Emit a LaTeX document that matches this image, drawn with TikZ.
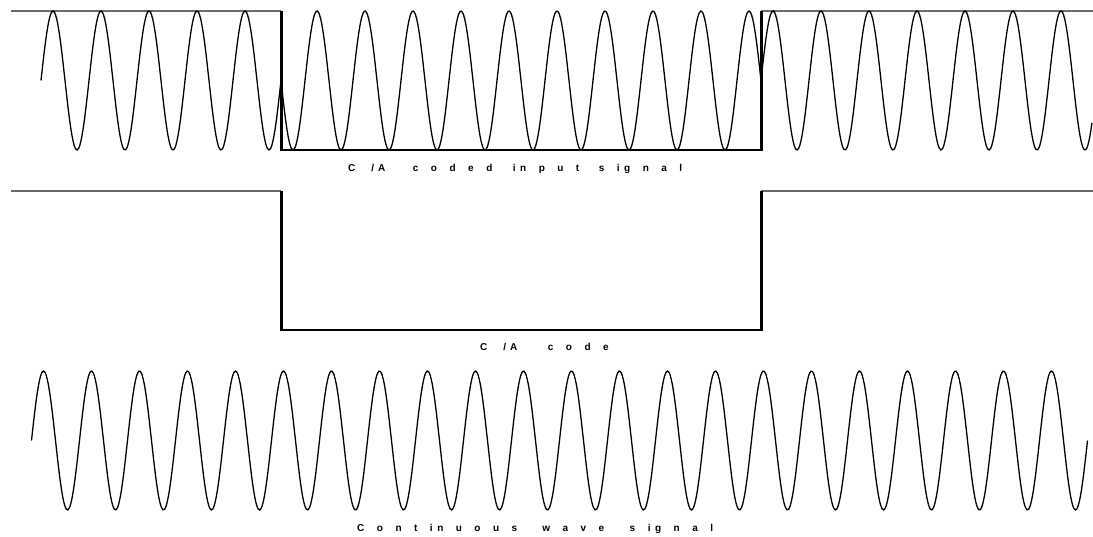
\documentclass[tikz,border=0pt]{standalone}
\usepackage{fontspec}
\setmainfont{Liberation Sans}
\usetikzlibrary{positioning}
\definecolor{edgeGray}{HTML}{6A6A6A}
\definecolor{inkBlack}{HTML}{000000}
% wide letter spacing, narrow after i
\newcommand\spread[1]{\spreadstep#1\relax}
\def\spreadstep#1{\ifx\relax#1\else#1\ifx i#1\kern4.5pt\else\kern12.5pt\fi\expandafter\spreadstep\fi}
\newcommand\calabel{\spread{C}\kern3.5pt/\kern4pt\spread{A}}
\tikzset{
  wave/.style={inkBlack,line width=1.3pt},
  level/.style={edgeGray,line width=1.1pt},
  floor/.style={inkBlack,line width=1.4pt},
  jump/.style={inkBlack,line width=3pt},
  tag/.style={anchor=base west,inner sep=0pt,font=\bfseries\fontsize{10}{12}\selectfont}
}
\begin{document}
\begin{tikzpicture}[x=1pt,y=-1pt]
  \useasboundingbox (0,0) rectangle (1093,537);
  % coded input signal
  \draw[level] (11,11) -- (281,11);
  \draw[level] (761,11) -- (1093,11);
  \draw[floor] (281,150) -- (761,150);
  \draw[jump] (281,11) -- (281,151);
  \draw[jump] (761,11) -- (761,151);
  \draw[wave] plot[domain=41:281,samples=160,smooth] (\x,{80.5-69.5*sin(7.5*(\x-41))});
  \draw[wave] plot[domain=281:761,samples=320,smooth] (\x,{80.5+69.5*sin(7.5*(\x-41))});
  \draw[wave] plot[domain=761:1092,samples=220,smooth] (\x,{80.5-69.5*sin(7.5*(\x-41))});
  \node[tag] (input) at (348,171.5) {\calabel\kern15pt\spread{coded}\kern8pt\spread{input}\kern7pt\spread{signal}};
  % C/A code
  \draw[level] (11,191) -- (281,191);
  \draw[level] (761,191) -- (1093,191);
  \draw[floor] (281,330) -- (761,330);
  \draw[jump] (281,191) -- (281,331);
  \draw[jump] (761,191) -- (761,331);
  \node[tag] (code) at (480,351) {\calabel\kern18pt\spread{code}};
  % carrier
  \draw[wave] plot[domain=31.5:1087.5,samples=700,smooth] (\x,{440.5-69.5*sin(7.5*(\x-31.5))});
  \node[tag] (carrier) at (357,531.5) {\spread{Continuous}\kern12.5pt\spread{wave}\kern13pt\spread{signal}};
\end{tikzpicture}
\end{document}
